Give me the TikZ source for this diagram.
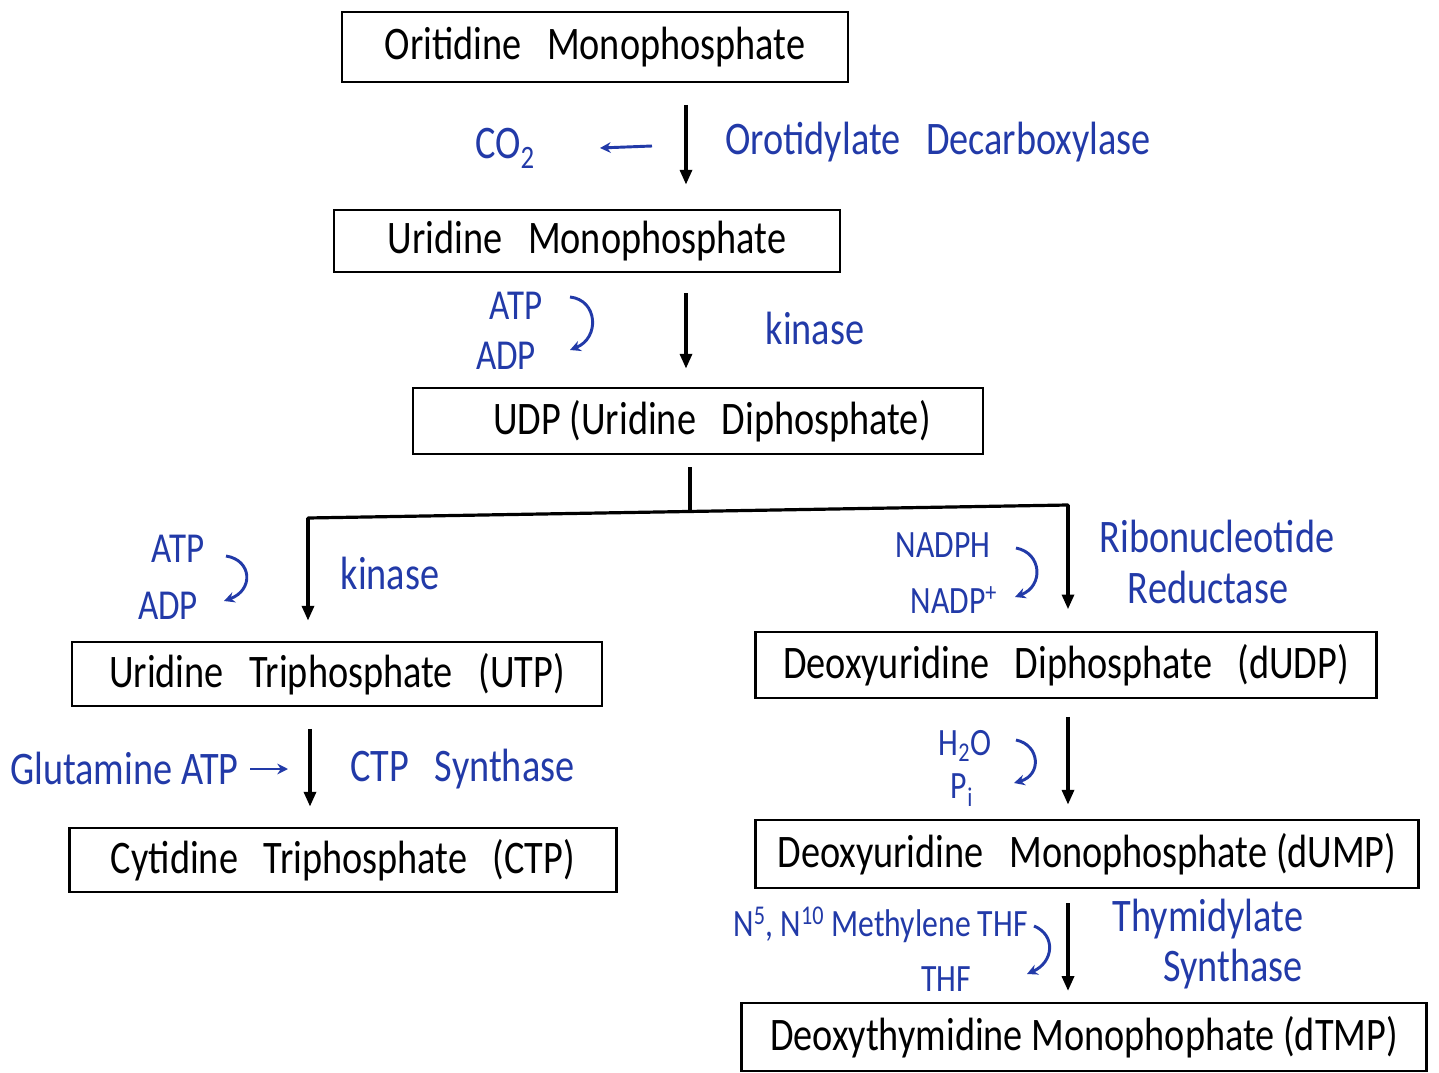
\documentclass[tikz,border=0pt]{standalone}
\usepackage{fontspec}
\setmainfont{Carlito}[FakeStretch=0.82]
\usetikzlibrary{arrows.meta}
\definecolor{ink}{RGB}{34,58,168}
\tikzset{
  box/.style={draw=black, line width=2.2pt, inner sep=0pt, font=\fontsize{35}{40}\selectfont},
  lbl/.style={text=ink, inner sep=0pt, font=\fontsize{35}{38}\selectfont},
  mlbl/.style={text=ink, inner sep=0pt, font=\fontsize{32}{36}\selectfont},
  slbl/.style={text=ink, inner sep=0pt, font=\fontsize{29}{32}\selectfont},
  flow/.style={line width=2.4pt, -{Triangle[length=11pt,width=9pt]}},
  plain/.style={line width=2.4pt},
  side/.style={ink, line width=2.2pt, -{Stealth[length=8pt,width=8pt]}},
  curvearr/.style={ink, line width=2.2pt, -{Stealth[length=8pt,width=8pt]}},
}
\newcommand{\gap}{\hspace{0.55em}}
\begin{document}
\begin{tikzpicture}[x=0.75pt,y=-0.75pt]
\useasboundingbox (0,0) rectangle (1439,1073);

% compound boxes
\node[box, minimum width=379.5pt, minimum height=52.5pt] (omp) at (595,47) {Oritidine\gap Monophosphate};
\node[box, minimum width=379.5pt, minimum height=46.5pt] (ump) at (587,241) {Uridine\gap Monophosphate};
\node[box, minimum width=427.5pt, minimum height=49.5pt] (udp) at (698,421) {\hspace{0.6em}UDP (Uridine\gap Diphosphate)};
\node[box, minimum width=397.5pt, minimum height=48pt] (utp) at (337,674) {Uridine\gap Triphosphate\gap (UTP)};
\node[box, minimum width=410.25pt, minimum height=48pt] (ctp) at (343,860) {Cytidine\gap Triphosphate\gap (CTP)};
\node[box, minimum width=465.75pt, minimum height=49.5pt] (dudp) at (1066,665) {Deoxyuridine\gap Diphosphate\gap (dUDP)};
\node[box, minimum width=497.25pt, minimum height=51pt] (dump) at (1087,854) {Deoxyuridine\gap Monophosphate (dUMP)};
\node[box, minimum width=513.75pt, minimum height=51pt] (dtmp) at (1084,1037) {Deoxythymidine Monophophate (dTMP)};

% OMP -> UMP
\draw[flow, shorten <=16pt, shorten >=18pt] (686,0 |- omp.south) -- (686,0 |- ump.north);
\node[lbl, anchor=west] (odc) at (725,142) {Orotidylate\gap Decarboxylase};
\node[lbl] (co2) at (505,148) {CO\textsubscript{2}};
\coordinate (co2s) at (652,146);
\draw[side] (co2s) -- (co2.east -| 600,0);

% UMP -> UDP
\draw[flow, shorten <=15pt, shorten >=13.5pt] (686,0 |- ump.south) -- (686,0 |- udp.north);
\node[mlbl] (atp1) at (516,306) {ATP};
\node[mlbl] (adp1) at (506,356) {ADP};
\coordinate (c1a) at (570,297);
\coordinate (c1b) at (570,350);
\draw[curvearr] (c1a) .. controls (598,300) and (600,338) .. (c1b);
\node[lbl] (kin1) at (815,328) {kinase};

% UDP branches
\coordinate (stem) at (690,467);
\coordinate (mid) at (690,511);
\coordinate (lj) at (308,518);
\coordinate (rj) at (1068,505);
\draw[plain] (stem) -- (mid);
\draw[plain, line cap=round] (lj) -- (rj);
\draw[flow, shorten >=15pt] (lj) -- (lj |- utp.north);
\draw[flow, shorten >=16pt] (rj) -- (rj |- dudp.north);

% left branch: UDP -> UTP
\node[mlbl] (atp2) at (178,549) {ATP};
\node[mlbl] (adp2) at (168,606) {ADP};
\coordinate (c2a) at (226,556);
\coordinate (c2b) at (224,601);
\draw[curvearr] (c2a) .. controls (252,560) and (254,590) .. (c2b);
\node[lbl] (kin2) at (390,573) {kinase};

% right branch: UDP -> dUDP
\node[slbl] (nadph) at (943,545) {NADPH};
\node[slbl] (nadp) at (954,600) {NADP\textsuperscript{+}};
\coordinate (c3a) at (1016,548);
\coordinate (c3b) at (1015,597);
\draw[curvearr] (c3a) .. controls (1042,553) and (1044,586) .. (c3b);
\node[lbl] (rib) at (1217,536) {Ribonucleotide};
\node[lbl] (red) at (1208,587) {Reductase};

% UTP -> CTP
\draw[flow, shorten <=16pt, shorten >=15pt] (310,0 |- utp.south) -- (310,0 |- ctp.north);
\node[lbl, anchor=west] (glu) at (10,768) {Glutamine ATP};
\coordinate (g1) at (250,769);
\coordinate (g2) at (288,769);
\draw[side] (g1) -- (g2);
\node[lbl, anchor=west] (ctps) at (350,769) {CTP\gap Synthase};

% dUDP -> dUMP
\draw[flow, shorten <=13pt, shorten >=10.5pt] (1068,0 |- dudp.south) -- (1068,0 |- dump.north);
\node[slbl] (h2o) at (965,746) {H\textsubscript{2}O};
\node[slbl] (pi) at (962,790) {P\textsubscript{i}};
\coordinate (c4a) at (1016,740);
\coordinate (c4b) at (1014,783);
\draw[curvearr] (c4a) .. controls (1040,745) and (1042,775) .. (c4b);

% dUMP -> dTMP
\draw[flow, shorten <=10.5pt, shorten >=8pt] (1068,0 |- dump.south) -- (1068,0 |- dtmp.north);
\node[slbl, anchor=east] (mthf) at (1028,925) {N\textsuperscript{5}, N\textsuperscript{10} Methylene THF};
\node[slbl] (thf) at (946,979) {THF};
\coordinate (c5a) at (1034,926);
\coordinate (c5b) at (1027,974);
\draw[curvearr] (c5a) .. controls (1056,935) and (1054,962) .. (c5b);
\node[lbl] (thy) at (1208,919) {Thymidylate};
\node[lbl] (syn) at (1233,969) {Synthase};
\end{tikzpicture}
\end{document}
